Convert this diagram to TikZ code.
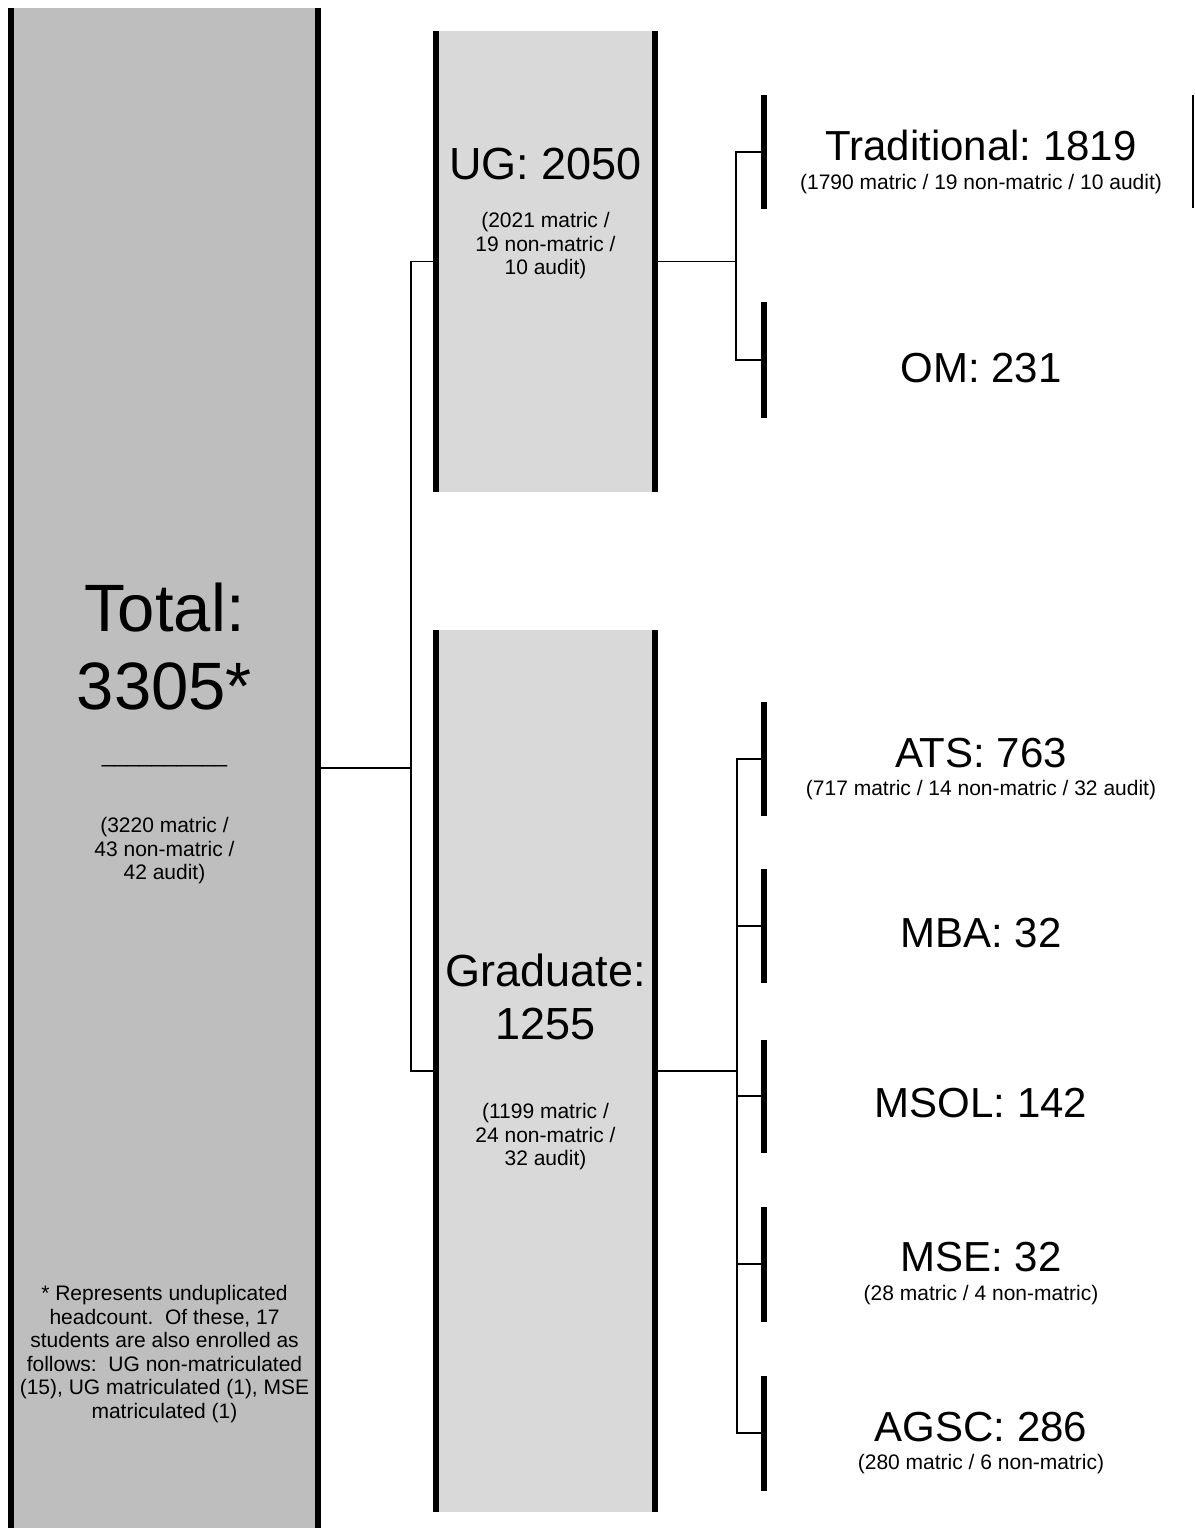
\documentclass[tikz,border=0pt]{standalone}
\usepackage{fontspec}
\setmainfont{Liberation Sans}
\definecolor{totgray}{HTML}{BEBEBE}
\definecolor{subgray}{HTML}{D9D9D9}
\begin{document}
\frenchspacing
\begin{tikzpicture}[x=1pt,y=-1pt,
  bigbox/.style={fill=#1, draw=none, inner sep=0pt, outer sep=0pt},
  rbar/.style={fill=black, draw=none, inner sep=0pt, outer sep=0pt, minimum width=6pt, minimum height=#1},
  conn/.style={line width=1.6pt},
  edgebar/.style={line width=6pt},
  huge/.style={font=\fontsize{67}{78}\selectfont, align=center, inner sep=0pt},
  mid/.style={font=\fontsize{45}{53}\selectfont, align=center, inner sep=0pt},
  lab/.style={font=\fontsize{42}{48}\selectfont, inner sep=0pt, anchor=base},
  small/.style={font=\fontsize{21}{23.5}\selectfont, align=center, inner sep=0pt},
  smallb/.style={font=\fontsize{21}{23.5}\selectfont, inner sep=0pt, anchor=base}
]
\useasboundingbox (0,0) rectangle (1194,1528);
% boxes
\node[bigbox=totgray, minimum width=313pt, minimum height=1520pt] (tot) at (164.5,768) {};
\node[bigbox=subgray, minimum width=225pt, minimum height=461pt] (ug) at (545.5,261.5) {};
\node[bigbox=subgray, minimum width=225pt, minimum height=882pt] (grad) at (545.5,1071) {};
\foreach \b in {tot,ug,grad}{
  \draw[edgebar] ([xshift=3pt]\b.north west) -- ([xshift=3pt]\b.south west);
  \draw[edgebar] ([xshift=-3pt]\b.north east) -- ([xshift=-3pt]\b.south east);
}
% right bars
\node[rbar=114pt] (trad) at (764,152) {};
\node[rbar=116pt] (om) at (764,360) {};
\node[rbar=114pt] (ats) at (764,759) {};
\node[rbar=114pt] (mba) at (764,926) {};
\node[rbar=113pt] (msol) at (764,1096) {};
\node[rbar=115pt] (mse) at (764,1264) {};
\node[rbar=115pt] (agsc) at (764,1433) {};
\draw[line width=1.2pt] (1193,95) -- (1193,208);
% connectors
\coordinate (j1) at (411,768);
\coordinate (j2) at (736,261.5);
\coordinate (j3) at (737,1071);
\draw[conn] (tot.east) -- (j1);
\draw[conn] (ug.west) -- (ug.west -| j1) -- (grad.west -| j1) -- (grad.west);
\draw[conn] (ug.east) -- (j2);
\draw[conn] (trad.west) -- (trad.west -| j2) -- (om.west -| j2) -- (om.west);
\draw[conn] (grad.east) -- (j3);
\draw[conn] (ats.west) -- (ats.west -| j3) -- (agsc.west -| j3) -- (agsc.west);
\draw[conn] (mba.west -| j3) -- (mba.west);
\draw[conn] (msol.west -| j3) -- (msol.west);
\draw[conn] (mse.west -| j3) -- (mse.west);
% total texts
\node[huge] (totlab) at (164.5,646.5) {Total:\\3305*};
\node[font=\fontsize{22.5}{27}\selectfont, inner sep=0pt, anchor=base] (totline) at (164.5,762) {\_\_\_\_\_\_\_\_\_\_};
\node[small] (totsub) at (164.5,851) {(3220 matric /\\43 non-matric /\\42 audit)};
\node[small] (note) at (164.5,1354) {* Represents unduplicated\\headcount.\ \ Of these, 17\\students are also enrolled as\\follows:\ \ UG non-matriculated\\(15), UG matriculated (1), MSE\\matriculated (1)};
% UG / Graduate
\node[font=\fontsize{45}{53}\selectfont, inner sep=0pt, anchor=base] (uglab) at (545.5,179) {UG: 2050};
\node[small] (ugsub) at (545.5,246) {(2021 matric /\\19 non-matric /\\10 audit)};
\node[mid] (gradlab) at (545.5,996.5) {Graduate:\\1255};
\node[small] (gradsub) at (545.5,1137) {(1199 matric /\\24 non-matric /\\32 audit)};
% right labels
\node[lab] (tradlab) at (981,160) {Traditional: 1819};
\node[smallb] (tradsub) at (981,189) {(1790 matric / 19 non-matric / 10 audit)};
\node[lab] (omlab) at (981,382) {OM: 231};
\node[lab] (atslab) at (981,767) {ATS: 763};
\node[smallb] (atssub) at (981,795) {(717 matric / 14 non-matric / 32 audit)};
\node[lab] (mbalab) at (981,947) {MBA: 32};
\node[lab] (msollab) at (981,1117) {MSOL: 142};
\node[lab] (mselab) at (981,1271.7) {MSE: 32};
\node[smallb] (msesub) at (981,1300) {(28 matric / 4 non-matric)};
\node[lab] (agsclab) at (981,1441) {AGSC: 286};
\node[smallb] (agscsub) at (981,1469) {(280 matric / 6 non-matric)};
\end{tikzpicture}
\end{document}
